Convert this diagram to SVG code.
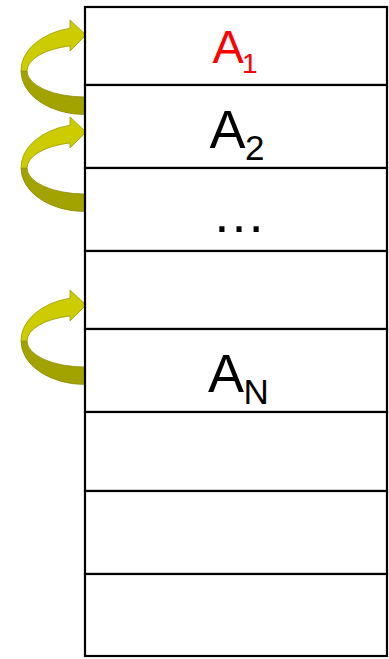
<svg xmlns="http://www.w3.org/2000/svg" width="389" height="659" viewBox="0 0 389 659">
  <style>
    .cell { fill: #ffffff; stroke: #000000; stroke-width: 2.2; }
    .lbl { font-family: "Liberation Sans", Arial, sans-serif; fill: #000000; }
    .red { fill: #ff0000; }
    .top-face { fill: #cccc00; stroke: #9c9c00; stroke-width: 0.8; }
    .under-face { fill: #a3a300; stroke: #8c8c00; stroke-width: 0.8; }
  </style>
  <defs>
    <!-- curved ribbon arrow: underside swings from the tail, top face ends in the head -->
    <g id="curl">
      <path class="under-face" d="M 21,71 A 64 43.5 0 0 0 85,114.5 L 85,97 A 58 26 0 0 1 27,71 Z"/>
      <path class="top-face" d="M 70,20 L 86,35 L 70,51 L 70,45.9 A 58 26 0 0 0 27,71 L 21,71 A 64 43.5 0 0 1 70,28.2 Z"/>
    </g>
  </defs>

  <rect width="389" height="659" fill="#ffffff"/>

  <g id="connectors">
    <use href="#curl"/>
    <use href="#curl" transform="translate(0,97)"/>
    <use href="#curl" transform="translate(0,270)"/>
  </g>

  <g id="cell-1">
    <rect class="cell" x="85" y="7" width="302" height="78"/>
    <text class="lbl red" x="212.5" y="63" font-size="47">A</text>
    <text class="lbl red" x="242" y="73" font-size="28">1</text>
  </g>
  <g id="cell-2">
    <rect class="cell" x="85" y="85" width="302" height="83"/>
    <text class="lbl" x="209.5" y="148" font-size="54">A</text>
    <text class="lbl" x="245" y="160" font-size="35">2</text>
  </g>
  <g id="cell-3">
    <rect class="cell" x="85" y="168" width="302" height="83"/>
    <text class="lbl" x="212" y="232" font-size="54">…</text>
  </g>
  <g id="cell-4">
    <rect class="cell" x="85" y="251" width="302" height="78"/>
  </g>
  <g id="cell-5">
    <rect class="cell" x="85" y="329" width="302" height="83"/>
    <text class="lbl" x="208" y="392" font-size="54">A</text>
    <text class="lbl" x="243.5" y="404" font-size="35">N</text>
  </g>
  <g id="cell-6">
    <rect class="cell" x="85" y="412" width="302" height="79"/>
  </g>
  <g id="cell-7">
    <rect class="cell" x="85" y="491" width="302" height="83"/>
  </g>
  <g id="cell-8">
    <rect class="cell" x="85" y="574" width="302" height="82"/>
  </g>
</svg>
